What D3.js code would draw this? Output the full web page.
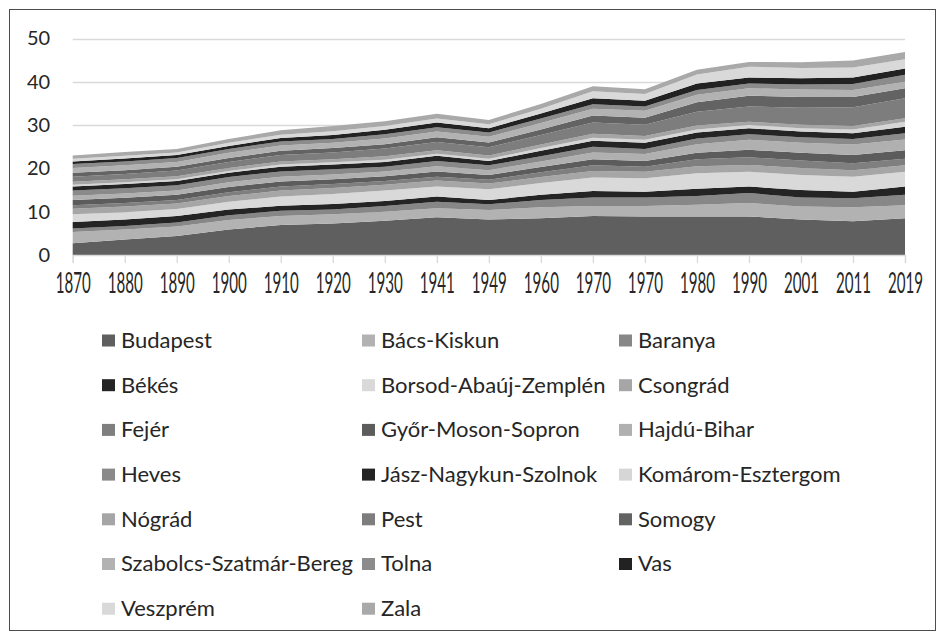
<!DOCTYPE html>
<html>
<head>
<meta charset="utf-8">
<script src="https://cdn.jsdelivr.net/npm/d3@7"></script>
<style>
  body { margin: 0; background: #fff; }
  text { font-family: Lato, "Open Sans", sans-serif; fill: #262626; }
</style>
</head>
<body>
<div id="chart"></div>
<script>
// census years (1970 appears twice in the source)
var years = ["1870", "1880", "1890", "1900", "1910", "1920", "1930", "1941", "1949",
  "1960", "1970", "1970", "1980", "1990", "2001", "2011", "2019"];

var budapest  = [2.7, 3.6, 4.4, 5.9, 6.9, 7.3, 7.9, 8.7, 8.2, 8.5, 9.0, 8.9, 8.9, 8.9, 8.2, 7.8, 8.5];
var bacs      = [2.6, 2.3, 2.2, 2.2, 2.1, 2.1, 2.1, 2.1, 2.2, 2.5, 2.3, 2.4, 2.7, 3.1, 3.0, 3.2, 3.0];
var baranya   = [0.8, 0.8, 0.9, 1.1, 1.2, 1.1, 1.3, 1.5, 1.3, 1.7, 2.0, 2.0, 2.0, 2.3, 2.1, 2.1, 2.4];
var bekes     = [1.5, 1.5, 1.5, 1.3, 1.2, 1.3, 1.2, 1.2, 1.0, 1.2, 1.5, 1.3, 1.7, 1.5, 1.7, 1.5, 1.9];
var borsod    = [1.8, 1.7, 1.6, 1.8, 2.1, 2.3, 2.4, 2.3, 2.5, 2.7, 3.1, 3.1, 3.6, 3.4, 3.5, 3.5, 3.4];
var csongrad  = [1.3, 1.3, 1.3, 1.3, 1.4, 1.4, 1.3, 1.4, 1.3, 1.4, 1.5, 1.5, 1.6, 1.6, 1.6, 1.5, 1.5];
var fejer     = [0.8, 0.8, 0.8, 0.9, 0.9, 0.9, 0.9, 0.9, 0.9, 1.1, 1.3, 1.2, 1.6, 1.8, 1.7, 1.6, 1.5];
var gyor      = [1.2, 1.2, 1.2, 1.2, 1.2, 1.1, 1.1, 1.2, 1.1, 1.2, 1.4, 1.3, 1.5, 1.7, 1.8, 1.9, 2.0];
var hajdu     = [1.0, 1.0, 1.0, 1.1, 1.1, 1.1, 1.1, 1.2, 1.1, 1.3, 1.6, 1.6, 2.0, 2.3, 2.3, 2.4, 2.5];
var heves     = [1.2, 1.2, 1.2, 1.2, 1.2, 1.2, 1.1, 1.2, 1.1, 1.2, 1.3, 1.2, 1.3, 1.3, 1.3, 1.3, 1.4];
var jasz      = [0.9, 1.0, 1.0, 1.0, 1.1, 1.1, 1.1, 1.2, 1.0, 1.3, 1.4, 1.4, 1.4, 1.4, 1.3, 1.3, 1.5];
var komarom   = [0.4, 0.4, 0.4, 0.4, 0.5, 0.5, 0.5, 0.5, 0.5, 0.6, 0.7, 0.7, 0.7, 0.7, 0.8, 0.9, 1.2];
var nograd    = [0.7, 0.7, 0.7, 0.7, 0.7, 0.7, 0.8, 0.8, 0.8, 0.8, 0.9, 0.9, 0.9, 0.8, 0.8, 0.8, 0.8];
var pest      = [1.2, 1.2, 1.3, 1.4, 1.5, 1.6, 1.8, 1.9, 1.9, 2.2, 2.6, 2.6, 3.2, 3.5, 3.9, 4.3, 4.6];
var somogy    = [0.9, 0.9, 0.9, 0.9, 1.0, 1.0, 1.0, 1.1, 1.1, 1.3, 1.6, 1.6, 2.2, 2.5, 2.5, 2.4, 2.3];
var szabolcs  = [1.1, 1.1, 1.1, 1.2, 1.2, 1.2, 1.3, 1.3, 1.3, 1.5, 1.6, 1.6, 1.7, 1.7, 1.7, 1.6, 1.5];
var tolna     = [0.9, 0.9, 0.9, 0.9, 0.9, 0.9, 1.0, 1.0, 1.0, 1.0, 1.0, 1.0, 1.1, 1.1, 1.2, 1.4, 1.6];
var vas       = [0.6, 0.7, 0.7, 0.7, 0.8, 0.9, 1.0, 1.1, 1.0, 1.2, 1.4, 1.3, 1.5, 1.4, 1.4, 1.5, 1.5];
var veszprem  = [0.6, 0.6, 0.6, 0.7, 0.8, 0.9, 0.9, 0.9, 0.9, 1.1, 1.6, 1.6, 2.1, 2.5, 2.4, 2.3, 2.1];
var zala      = [0.8, 0.9, 0.8, 0.9, 1.0, 1.2, 1.1, 1.1, 1.0, 1.1, 1.2, 1.1, 1.1, 1.1, 1.3, 1.6, 1.7];

var names = ["Budapest", "Bács-Kiskun", "Baranya", "Békés", "Borsod-Abaúj-Zemplén", "Csongrád",
  "Fejér", "Győr-Moson-Sopron", "Hajdú-Bihar", "Heves", "Jász-Nagykun-Szolnok", "Komárom-Esztergom",
  "Nógrád", "Pest", "Somogy", "Szabolcs-Szatmár-Bereg", "Tolna", "Vas", "Veszprém", "Zala"];
var values = [budapest, bacs, baranya, bekes, borsod, csongrad, fejer, gyor, hajdu, heves,
  jasz, komarom, nograd, pest, somogy, szabolcs, tolna, vas, veszprem, zala];
var colors = ["#5f5f5f", "#b2b2b2", "#878787", "#242424", "#d9d9d9", "#a6a6a6",
  "#7f7f7f", "#5c5c5c", "#b0b0b0", "#8a8a8a", "#242424", "#d6d6d6",
  "#a5a5a5", "#7d7d7d", "#636363", "#b2b2b2", "#8c8c8c", "#222222", "#d9d9d9", "#a9a9a9"];
var yTicks = [0, 10, 20, 30, 40, 50];

var svgWidth = 946;
var svgHeight = 639;

var svg = d3.select("#chart")
  .append("svg")
  .attr("width", svgWidth)
  .attr("height", svgHeight);

// chart border
svg.append("rect")
  .attr("x", 9.5).attr("y", 9.5)
  .attr("width", 926).attr("height", 621)
  .attr("fill", "#fff")
  .attr("stroke", "#4d4d4d");

// build rows for the stack
var rows = years.map(function(y, i) {
  var row = { i: i };
  names.forEach(function(n, k) { row[n] = values[k][i]; });
  return row;
});

var x = d3.scalePoint()
  .domain(d3.range(years.length))
  .range([72.7, 905]);

var y = d3.scaleLinear()
  .domain([0, 50])
  .range([255, 38.5]);

// gridlines
svg.append("g")
  .selectAll("line")
  .data(yTicks.slice(1))
  .enter()
  .append("line")
  .attr("x1", 72.7).attr("x2", 905)
  .attr("y1", d => Math.round(y(d)) + 0.5)
  .attr("y2", d => Math.round(y(d)) + 0.5)
  .attr("stroke", "#d9d9d9")
  .attr("stroke-width", 1.3);

var stack = d3.stack().keys(names);
var layers = stack(rows);

var area = d3.area()
  .x(d => x(d.data.i))
  .y0(d => y(d[0]))
  .y1(d => y(d[1]));

svg.append("g")
  .selectAll("path")
  .data(layers)
  .enter()
  .append("path")
  .attr("d", area)
  .attr("fill", (d, k) => colors[k]);

// x axis
var xAxis = svg.append("g")
  .attr("transform", "translate(0,255)")
  .call(d3.axisBottom(x).tickSize(8).tickFormat(i => years[i]));
xAxis.select(".domain").attr("stroke", "#d9d9d9").attr("stroke-width", 1.3);
xAxis.selectAll(".tick line").attr("stroke", "#d9d9d9").attr("stroke-width", 1.3);
xAxis.selectAll(".tick text")
  .attr("y", 38)
  .attr("dy", 0)
  .attr("transform", "scale(0.54,1)")
  .attr("font-size", 28)
  .attr("fill", "#262626");

// y axis
var yAxis = svg.append("g")
  .attr("transform", "translate(72.7,0)")
  .call(d3.axisLeft(y).tickValues(yTicks).tickSize(0).tickPadding(22.5));
yAxis.select(".domain").remove();
yAxis.selectAll(".tick text")
  .attr("font-size", 20)
  .attr("fill", "#262626");

// legend
var legendX = [102, 362, 619];
var legend = svg.append("g")
  .selectAll("g")
  .data(names)
  .enter()
  .append("g")
  .attr("transform", (d, k) => `translate(${legendX[k % 3]}, ${340 + 44.7 * Math.floor(k / 3)})`);

legend.append("rect")
  .attr("x", 0).attr("y", -5.5)
  .attr("width", 13).attr("height", 12)
  .attr("fill", (d, k) => colors[k]);

legend.append("text")
  .attr("x", 19)
  .attr("y", 0)
  .attr("dy", "0.36em")
  .attr("font-size", 22)
  .text(d => d);
</script>
</body>
</html>
